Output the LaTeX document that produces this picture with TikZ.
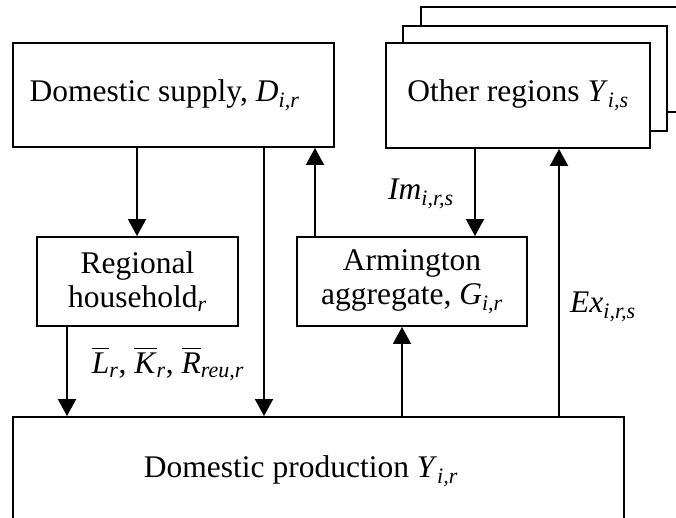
\documentclass[tikz,border=0pt]{standalone}
\usepackage{fontspec}
\setmainfont{Liberation Serif}
\usetikzlibrary{arrows.meta}

\newcommand{\isub}[1]{\textsubscript{\textit{#1}}}
\newcommand{\ovl}[1]{$\overline{\raisebox{0pt}[\dimexpr\height+4pt][\depth]{\textit{#1}}}$}

\begin{document}
\begin{tikzpicture}[x=1pt, y=-1pt, line width=1.9pt,
        every node/.style={font=\fontsize{31.5}{34}\selectfont},
        box/.style={draw, fill=white, rectangle, inner sep=0pt, align=center},
        arr/.style={-{Triangle[width=18pt,length=17pt]}}]

    \useasboundingbox (0,0) rectangle (676,518);

    % boxes
    \node[box, minimum width=321pt, minimum height=104pt] (supply) at (173.5,95) {Domestic supply, \textit{D}\isub{i,r}\hspace{18pt}};
    \node[box, minimum width=264pt, minimum height=105pt] (other3) at (553,59.5) {};
    \node[box, minimum width=264pt, minimum height=105pt] (other2) at (535,78.5) {};
    \node[box, minimum width=264pt, minimum height=105pt] (other) at (518,95.5) {Other regions \textit{Y}\isub{i,s}};
    \node[box, minimum width=201pt, minimum height=89pt] (hh) at (137.5,281.5) {Regional\\household\isub{r}};
    \node[box, minimum width=230pt, minimum height=89pt] (arm) at (412,281.5) {Armington\\aggregate, \textit{G}\isub{i,r}};
    \node[box, minimum width=611pt, minimum height=108pt] (prod) at (318.5,471) {Domestic production \textit{Y}\isub{i,r}\hspace{35pt}};

    % x positions of the flows
    \coordinate (cL) at (67,0);
    \coordinate (cS) at (137,0);
    \coordinate (cD) at (264,0);
    \coordinate (cA) at (315,0);
    \coordinate (cG) at (402,0);
    \coordinate (cM) at (475,0);
    \coordinate (cE) at (559,0);

    % flows
    \draw[arr] (supply.south -| cS) -- (hh.north -| cS);
    \draw[arr] (hh.south -| cL) -- (prod.north -| cL);
    \draw[arr] (supply.south -| cD) -- (prod.north -| cD);
    \draw[arr] (arm.north -| cA) -- (supply.south -| cA);
    \draw[arr] (prod.north -| cG) -- (arm.south -| cG);
    \draw[arr] (other.south -| cM) -- (arm.north -| cM);
    \draw[arr] (prod.north -| cE) -- (other.south -| cE);

    % labels
    \node (lkr) at (168,364) {\ovl{L}\isub{r}, \ovl{K}\isub{r}, \ovl{R}\isub{reu,r}};
    \node (im) at (421,194) {\textit{Im}\isub{i,r,s}};
    \node (ex) at (603,307) {\textit{Ex}\isub{i,r,s}};
\end{tikzpicture}
\end{document}
